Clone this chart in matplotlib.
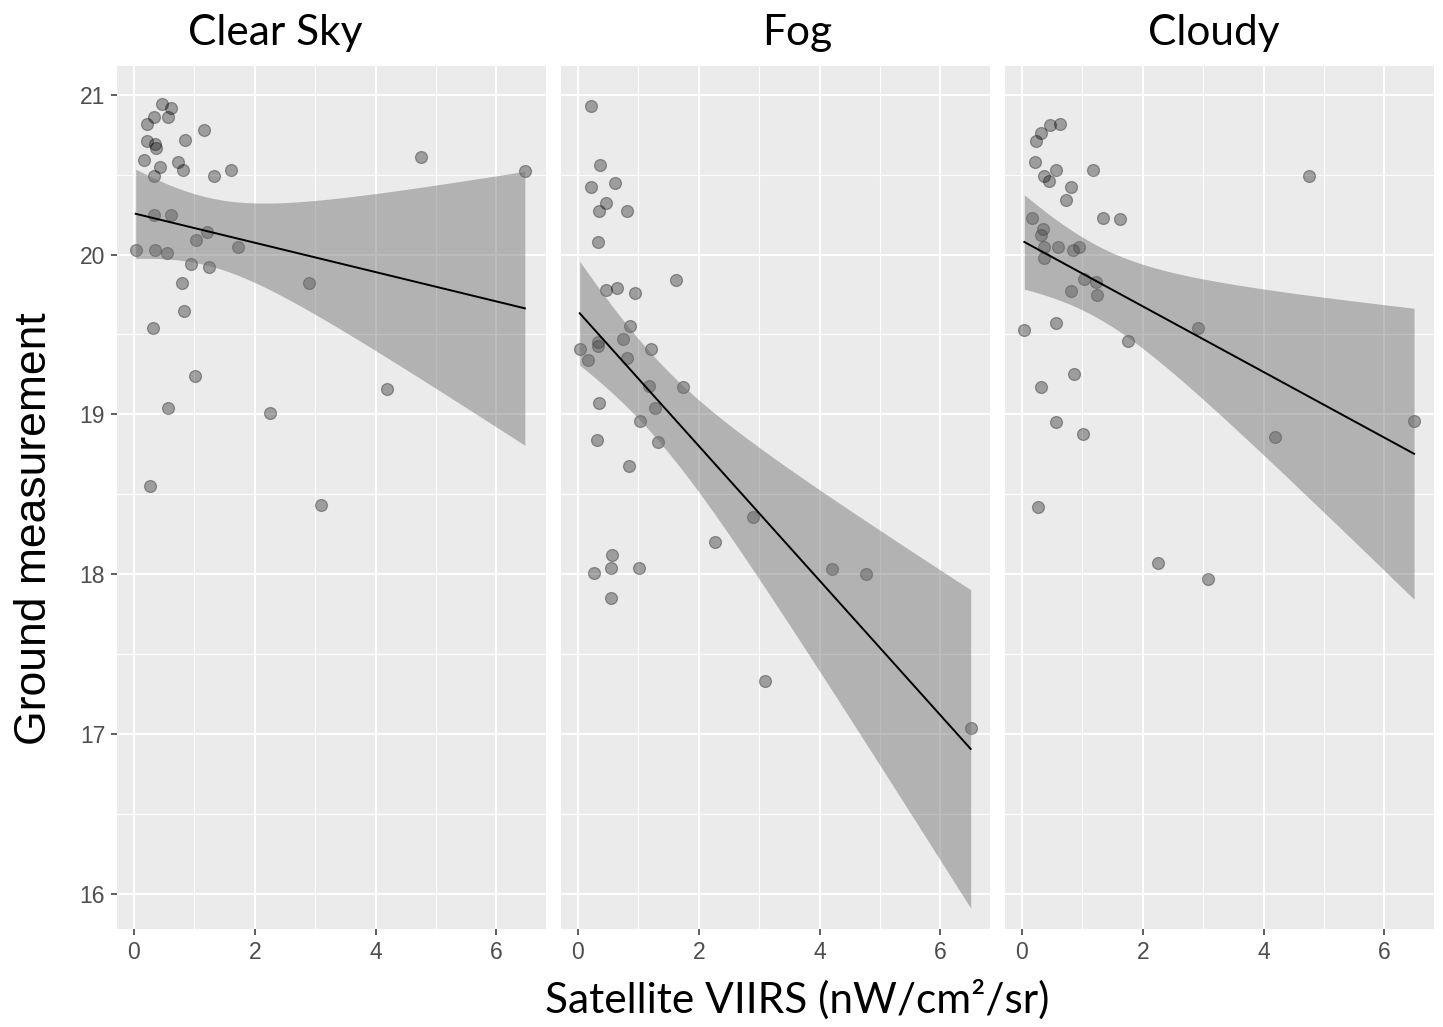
import numpy as np
import matplotlib
matplotlib.use('Agg')
import matplotlib.pyplot as plt

plt.rcParams['font.family'] = ['Liberation Sans', 'DejaVu Sans']

# panel titles
panels = ['Clear Sky', 'Fog', 'Cloudy']

clear_x = [0.46, 0.61, 0.33, 0.57, 0.22, 1.16, 0.85, 0.22, 0.35, 0.37, 0.17, 0.73, 0.43,
           0.82, 1.61, 4.75, 6.47, 0.33, 1.33, 0.33, 0.61, 1.21, 1.03, 1.73, 0.03, 0.35,
           0.54, 0.95, 1.25, 0.80, 2.90, 0.83, 0.31, 1.01, 4.19, 0.56, 2.26, 0.26, 3.09]
clear_y = [20.94, 20.92, 20.86, 20.86, 20.82, 20.78, 20.72, 20.71, 20.69, 20.67, 20.59, 20.58, 20.55,
           20.53, 20.53, 20.61, 20.52, 20.49, 20.49, 20.25, 20.25, 20.14, 20.09, 20.05, 20.03, 20.03,
           20.01, 19.94, 19.92, 19.82, 19.82, 19.65, 19.54, 19.24, 19.16, 19.04, 19.01, 18.55, 18.43]

fog_x = [0.22, 0.37, 0.22, 0.61, 0.46, 0.35, 0.82, 0.33, 1.63, 0.47, 0.64, 0.95, 0.86,
         0.74, 0.33, 0.33, 0.03, 1.21, 0.17, 0.81, 1.18, 1.74, 1.27, 0.35, 1.03, 0.31,
         1.33, 0.84, 2.90, 0.57, 0.55, 0.26, 1.01, 0.54, 2.27, 4.21, 4.77, 3.10, 6.50]
fog_y = [20.93, 20.56, 20.42, 20.45, 20.32, 20.27, 20.27, 20.08, 19.84, 19.78, 19.79, 19.76, 19.55,
         19.47, 19.45, 19.43, 19.41, 19.41, 19.34, 19.35, 19.18, 19.17, 19.04, 19.07, 18.96, 18.84,
         18.83, 18.68, 18.36, 18.12, 18.04, 18.01, 18.04, 17.85, 18.20, 18.03, 18.00, 17.33, 17.04]

cloudy_x = [0.63, 0.47, 0.32, 0.24, 0.22, 0.57, 1.17, 0.36, 0.45, 4.75, 0.82, 0.73, 0.17,
            1.35, 1.63, 0.35, 0.32, 0.36, 0.60, 0.95, 0.85, 0.36, 1.02, 1.22, 0.82, 1.25,
            0.56, 0.04, 2.91, 1.75, 0.86, 0.31, 0.57, 1.01, 4.19, 6.49, 0.26, 2.26, 3.08]
cloudy_y = [20.82, 20.81, 20.76, 20.71, 20.58, 20.53, 20.53, 20.49, 20.46, 20.49, 20.42, 20.34, 20.23,
            20.23, 20.22, 20.16, 20.12, 20.05, 20.05, 20.05, 20.03, 19.98, 19.85, 19.83, 19.77, 19.75,
            19.57, 19.53, 19.54, 19.46, 19.25, 19.17, 18.95, 18.88, 18.86, 18.96, 18.42, 18.07, 17.97]

xs = [clear_x, fog_x, cloudy_x]
ys = [clear_y, fog_y, cloudy_y]

x_ticks = [0, 2, 4, 6]
y_ticks = [16, 17, 18, 19, 20, 21]

T975 = 2.026  # t quantile, df = 37


def lm_fit(x, y, n=80):
    x = np.asarray(x)
    y = np.asarray(y)
    b, a = np.polyfit(x, y, 1)
    res = y - (a + b * x)
    s = np.sqrt(np.sum(res ** 2) / (len(x) - 2))
    xg = np.linspace(x.min(), x.max(), n)
    se = s * np.sqrt(1 / len(x) + (xg - x.mean()) ** 2 / np.sum((x - x.mean()) ** 2))
    yg = a + b * xg
    return xg, yg, yg - T975 * se, yg + T975 * se


W, H = 1443, 1027
fig = plt.figure(figsize=(W / 100, H / 100), dpi=100)

lefts = [117, 561, 1005]
title_cx = [275, 797, 1214]
for i in range(3):
    ax = fig.add_axes([lefts[i] / W, 1 - 929 / H, 429 / W, (929 - 66) / H])
    ax.set_facecolor('#EBEBEB')
    for s in ax.spines.values():
        s.set_visible(False)

    ax.scatter(xs[i], ys[i], s=74, c=[(0, 0, 0, 0.33)], edgecolors=[(0, 0, 0, 0.33)],
               linewidths=0.9, zorder=3)
    xg, yg, lo, hi = lm_fit(xs[i], ys[i])
    ax.fill_between(xg, lo, hi, color='#6E6E6E', alpha=0.45, lw=0, zorder=4)
    ax.plot(xg, yg, color='black', lw=1.4, zorder=5)

    ax.set_xlim(-0.28, 6.82)
    ax.set_ylim(15.78, 21.18)
    ax.set_xticks(x_ticks)
    ax.set_yticks(y_ticks)
    ax.set_xticks([1, 3, 5], minor=True)
    ax.set_yticks([16.5, 17.5, 18.5, 19.5, 20.5], minor=True)
    ax.grid(which='major', color='white', lw=1.5)
    ax.grid(which='minor', color='white', lw=0.8)
    ax.set_axisbelow(True)
    ax.tick_params(which='major', length=4.5, width=1.1, color='#333333',
                   labelsize=16.5, labelcolor='#4D4D4D', pad=4)
    ax.tick_params(which='minor', length=0)
    if i > 0:
        ax.tick_params(axis='y', which='both', left=False, labelleft=False)

    fig.text(title_cx[i] / W, 1 - 45 / H, panels[i], ha='center', va='baseline',
             fontsize=30.5, family='Lato')

fig.text(797 / W, 1 - 1013 / H, 'Satellite VIIRS (nW/cm²/sr)', ha='center', va='baseline',
         fontsize=30.5, family='Lato')
fig.text(35 / W, 1 - 529 / H, 'Ground measurement', ha='center', va='center',
         rotation=90, fontsize=32)

fig.savefig('out.png', dpi=100)
